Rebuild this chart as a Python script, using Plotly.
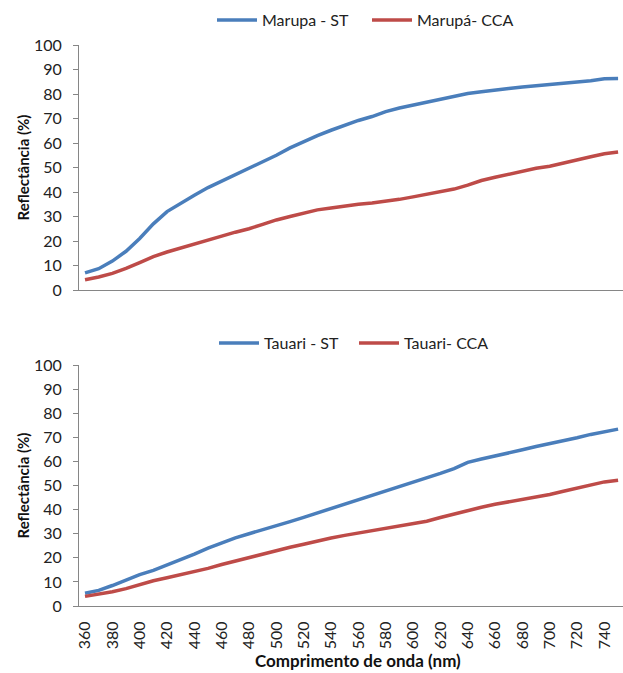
import plotly.graph_objects as go

# ---- data ----
wavelength = list(range(360, 760, 10))

marupa_st = [7.0, 8.7, 11.8, 15.8, 21.0, 27.0, 32.0, 35.5, 38.7, 41.8,
             44.5, 46.8, 49.5, 52.2, 55.0, 58.0, 60.7, 63.0, 65.2, 67.2,
             69.2, 70.8, 72.8, 74.3, 75.5, 76.7, 77.8, 79.1, 80.2, 80.9,
             81.4, 82.2, 82.9, 83.4, 83.8, 84.3, 84.9, 85.4, 86.2, 86.3]
marupa_cca = [4.2, 5.3, 6.8, 8.8, 11.2, 13.6, 15.5, 17.2, 18.8, 20.3,
              22.0, 23.6, 25.0, 26.8, 28.6, 30.0, 31.5, 32.7, 33.5, 34.3,
              35.0, 35.5, 36.2, 37.0, 38.0, 39.0, 40.0, 41.2, 42.8, 44.7,
              46.0, 47.3, 48.5, 49.7, 50.5, 51.9, 53.0, 54.4, 55.6, 56.3]
tauari_st = [5.3, 6.5, 8.5, 10.8, 13.0, 14.8, 17.0, 19.0, 21.5, 24.0,
             26.3, 28.3, 30.0, 31.6, 33.2, 35.0, 36.8, 38.6, 40.3, 42.1,
             44.0, 45.8, 47.6, 49.4, 51.4, 53.2, 55.0, 57.0, 59.6, 61.0,
             62.2, 63.6, 64.8, 66.2, 67.3, 68.6, 69.8, 71.2, 72.4, 73.4]
tauari_cca = [4.0, 4.8, 5.9, 7.2, 8.8, 10.5, 11.7, 13.0, 14.2, 15.6,
              17.2, 18.7, 20.2, 21.5, 23.0, 24.4, 25.6, 27.0, 28.2, 29.3,
              30.3, 31.2, 32.2, 33.2, 34.0, 35.2, 36.7, 38.2, 39.7, 41.0,
              42.2, 43.2, 44.5, 45.3, 46.3, 47.6, 49.0, 50.4, 51.5, 52.2]

y_ticks = list(range(0, 101, 10))
x_ticks = list(range(360, 741, 20))

BLUE = "#4A7EBB"
RED = "#BE4B48"
AXIS = "#868686"
FONT = "Lato"
W, H = 623, 673

fig = go.Figure()
fig.add_trace(go.Scatter(x=wavelength, y=marupa_st, mode="lines", name="Marupa - ST",
                         line=dict(color=BLUE, width=3.5), xaxis="x", yaxis="y", legend="legend"))
fig.add_trace(go.Scatter(x=wavelength, y=marupa_cca, mode="lines", name="Marupá- CCA",
                         line=dict(color=RED, width=3.5), xaxis="x", yaxis="y", legend="legend"))
fig.add_trace(go.Scatter(x=wavelength, y=tauari_st, mode="lines", name="Tauari - ST",
                         line=dict(color=BLUE, width=3.5), xaxis="x2", yaxis="y2", legend="legend2"))
fig.add_trace(go.Scatter(x=wavelength, y=tauari_cca, mode="lines", name="Tauari- CCA",
                         line=dict(color=RED, width=3.5), xaxis="x2", yaxis="y2", legend="legend2"))

xdom = [79 / W, 1.0]
xrange_ = [355.6, 753.6]
tickfont = dict(family=FONT, size=16, color="#222222")

common_y = dict(range=[0, 100], tickvals=y_ticks, ticks="outside", ticklen=5,
                tickcolor=AXIS, showline=True, linecolor=AXIS, linewidth=1,
                showgrid=False, zeroline=False, tickfont=tickfont,
                ticklabelstandoff=8, automargin=False)

legend_common = dict(orientation="h", xanchor="left", yanchor="middle",
                     font=dict(family=FONT, size=16, color="#222222"),
                     bgcolor="rgba(0,0,0,0)", itemwidth=40)

fig.update_layout(
    width=W, height=H,
    margin=dict(l=0, r=0, t=0, b=0),
    paper_bgcolor="white", plot_bgcolor="white",
    font=dict(family=FONT, color="#222222"),
    xaxis=dict(domain=xdom, range=xrange_, anchor="y", showticklabels=False,
               showline=True, linecolor=AXIS, linewidth=1, ticks="",
               showgrid=False, zeroline=False, automargin=False),
    yaxis=dict(domain=[1 - 290 / H, 1 - 45 / H], anchor="x", **common_y),
    xaxis2=dict(domain=xdom, range=xrange_, anchor="y2", tickvals=x_ticks,
                tickangle=-90, tickfont=tickfont, showline=True, linecolor=AXIS,
                linewidth=1, ticks="", showgrid=False, zeroline=False,
                ticklabelstandoff=8, automargin=False),
    yaxis2=dict(domain=[1 - 606 / H, 1 - 365 / H], anchor="x2", **common_y),
    legend=dict(x=212 / W, y=1 - 20 / H, entrywidth=100, **legend_common),
    legend2=dict(x=214 / W, y=1 - 343 / H, entrywidth=85, **legend_common),
    showlegend=True,
)

title_font = dict(family=FONT, size=15, color="#111111")
fig.add_annotation(text="<b>Reflectância (%)</b>", xref="paper", yref="paper",
                   x=22 / W, y=1 - 167.5 / H, textangle=-90, showarrow=False,
                   font=title_font, xanchor="center", yanchor="middle")
fig.add_annotation(text="<b>Reflectância (%)</b>", xref="paper", yref="paper",
                   x=22 / W, y=1 - 485.5 / H, textangle=-90, showarrow=False,
                   font=title_font, xanchor="center", yanchor="middle")
fig.add_annotation(text="<b>Comprimento de onda (nm)</b>", xref="paper", yref="paper",
                   x=358 / W, y=1 - 660 / H, showarrow=False,
                   font=dict(family=FONT, size=17, color="#111111"),
                   xanchor="center", yanchor="middle")

fig.write_html("out.html", config={"displayModeBar": False},
               post_script="document.body.style.margin='0';document.body.style.padding='0';")
